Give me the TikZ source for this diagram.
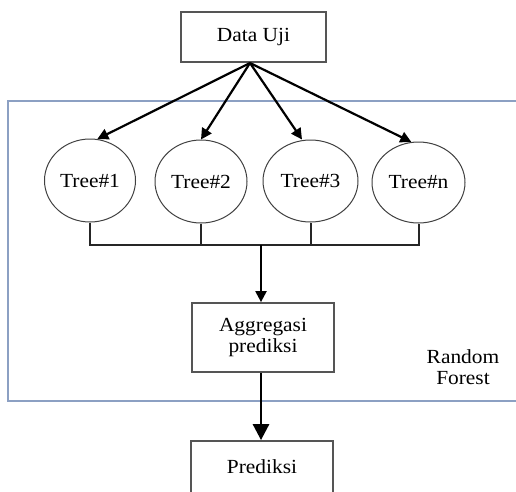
\documentclass[tikz,border=0pt]{standalone}
\usepackage{fontspec}
\setmainfont[FakeStretch=1.07]{Liberation Serif}
\usetikzlibrary{shapes.geometric,arrows.meta}
\definecolor{rfblue}{RGB}{140,160,195}
\definecolor{boxgray}{RGB}{85,85,85}
\tikzset{
  txt/.style={font=\fontsize{20}{21.5}\selectfont, text=black},
  boxnode/.style={txt, draw=boxgray, line width=1.8pt, align=center, inner sep=0pt},
  treenode/.style={txt, draw=black!75, line width=1pt, ellipse, inner sep=0pt},
  arr/.style={line width=2.2pt, -{Triangle[length=11pt,width=11pt]}},
  bigarr/.style={line width=2.8pt, -{Triangle[length=16pt,width=16pt]}},
  joinline/.style={line width=2pt, draw=black!85}
}
\begin{document}
\begin{tikzpicture}[x=1pt,y=-1pt]
\useasboundingbox (0,0) rectangle (516,491);
\clip (0,0) rectangle (516,491);
\fill[white] (0,0) rectangle (516,491);
\draw[rfblue, line width=1.4pt] (8,101) rectangle (540,401);
\node[boxnode, minimum width=145pt, minimum height=50pt] (data) at (253.5,37) {Data Uji};
\node[treenode, minimum width=91pt, minimum height=83pt] (t1) at (90,180.5) {Tree\#1};
\node[treenode, minimum width=92pt, minimum height=83pt] (t2) at (201,181.5) {Tree\#2};
\node[treenode, minimum width=95pt, minimum height=82pt] (t3) at (310.5,181) {Tree\#3};
\node[treenode, minimum width=93pt, minimum height=81pt] (tn) at (418.5,182.5) {Tree\#n};
\node[boxnode, minimum width=142pt, minimum height=69pt] (agg) at (263,337.5) {Aggregasi\\prediksi};
\node[boxnode, minimum width=142pt, minimum height=52pt] (pred) at (262,467) {Prediksi};
\node[txt, align=center] (rf) at (463,367) {Random\\Forest};
\coordinate (src) at (250,63);
\draw[arr] (src) -- (t1.80);
\draw[arr] (src) -- (t2.north);
\draw[arr] (src) -- (t3.north-|302,0);
\draw[arr] (src) -- (tn.100);
\coordinate (j1) at (t1.south |- 0,245);
\coordinate (j2) at (t2.south |- 0,245);
\coordinate (j3) at (t3.south |- 0,245);
\coordinate (jn) at (tn.south |- 0,245);
\coordinate (jm) at (261,245);
\draw[joinline] (t1.south) -- (j1) -- (jn) -- (tn.south);
\draw[joinline] (t2.south) -- (j2);
\draw[joinline] (t3.south) -- (j3);
\draw[arr] (jm) -- (jm |- agg.north);
\draw[bigarr] (agg.south -| 261,0) -- (pred.north -| 261,0);
\end{tikzpicture}
\end{document}
